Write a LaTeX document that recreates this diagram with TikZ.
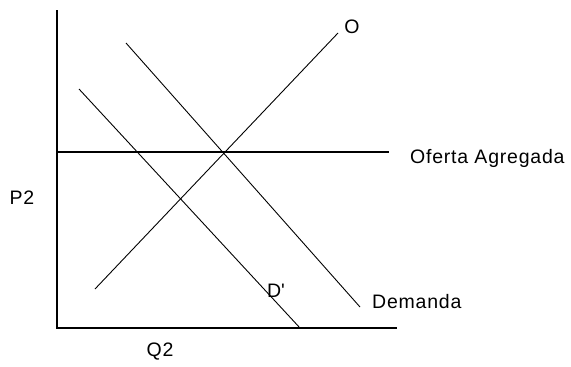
\documentclass[tikz,border=0pt]{standalone}
\usepackage{fontspec}
\setmainfont{Liberation Sans}[LetterSpace=4]
\usetikzlibrary{positioning}

\begin{document}
\begin{tikzpicture}[
  x=1pt, y=-1pt,
  font=\fontsize{19.5}{22}\selectfont,
  axis/.style={draw, line width=1.4pt},
  curve/.style={draw, line width=0.9pt},
  lbl/.style={inner sep=0pt, text=black},
]
\useasboundingbox (0,0) rectangle (571,367);

% =========================== axes =========================================
\coordinate (top)    at (57, 10);
\coordinate (origin) at (57, 328);
\coordinate (xend)   at (397, 328);
\draw[axis] (top) -- (origin) -- (xend);

\node[lbl] (p2) at (22, 198) {P2};
\node[lbl] (q2) at (160, 352) {Q2};

% =========================== curves =======================================
% oferta agregada (horizontal)
\coordinate (oa0) at (57, 152);
\coordinate (oa1) at (389, 152);
\draw[axis, line width=1.2pt] (oa0) -- (oa1);
\node[lbl, anchor=west] (oalbl) at (410, 158) {Oferta Agregada};

% oferta O
\coordinate (o0) at (95, 289);
\coordinate (o1) at (338, 33);
\draw[curve] (o0) -- (o1);
\node[lbl] (olbl) at (352, 27) {O};

% demanda
\coordinate (d0) at (126, 43);
\coordinate (d1) at (360, 307);
\draw[curve] (d0) -- (d1);
\node[lbl, anchor=west] (dlbl) at (372, 302) {Demanda};

% demanda desplazada D'
\coordinate (e0) at (79, 89);
\coordinate (e1) at (300, 328);
\draw[curve] (e0) -- (e1);
\node[lbl] (elbl) at (276, 291) {D\textquotesingle};

\end{tikzpicture}
\end{document}
